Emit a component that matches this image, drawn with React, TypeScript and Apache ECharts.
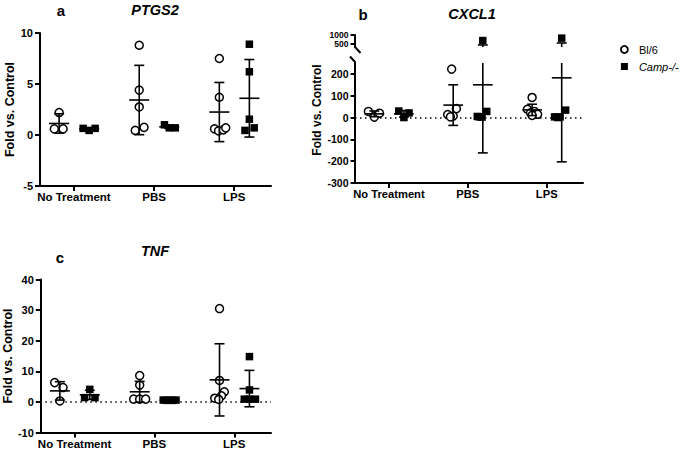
import { useEffect, useRef } from "react";
import * as echarts from "echarts";

// ---------- data ----------
const categories = ["No Treatment", "PBS", "LPS"];
const strainNames = ["Bl/6", "Camp-/-"];

// a  PTGS2
const ptgs2Bl6 = [[2.2, 0.6, 0.6], [8.8, 4.4, 2.75, 0.45, 0.75], [7.5, 3.7, 0.6, 0.4, 0.5, 0.7]];
const ptgs2Bl6Jitter = [[0, -0.06, 0.05], [0, 0, 0, -0.05, 0.06], [0, 0, -0.06, -0.01, 0.05, 0.08]];
const ptgs2Camp = [[0.65, 0.45, 0.65], [1.0, 0.7, 0.7], [8.9, 6.2, 1.55, 0.45, 0.7]];
const ptgs2CampJitter = [[-0.075, 0, 0.075], [-0.06, 0, 0.075], [0, 0, 0, -0.055, 0.06]];
const ptgs2Bl6Mean = [1.13, 3.43, 2.25];
const ptgs2Bl6Sd = [0.95, 3.4, 2.9];
const ptgs2CampMean = [0.6, 0.8, 3.6];
const ptgs2CampSd = [0.1, 0.15, 3.8];

// b  CXCL1
const cxcl1Bl6 = [[28, 2, 20], [222, 41, 14, 7, 3], [92, 38, 28, 22, 15, 10]];
const cxcl1Bl6Jitter = [[-0.075, 0, 0.065], [-0.02, 0.04, -0.07, 0.0, -0.035], [0, -0.06, 0.03, -0.02, 0.07, 0.0]];
const cxcl1Camp = [[30, 0, 21], [700, 28, 5, 2, 3], [830, 34, 3, 3, 0]];
const cxcl1CampJitter = [[-0.065, 0, 0.065], [0, 0.05, -0.07, -0.01, -0.04], [0, 0.05, -0.09, -0.02, -0.05]];
const cxcl1Bl6Mean = [17, 57, 35];
const cxcl1Bl6Sd = [13, 93, 26];
const cxcl1CampMean = [17, 150, 182];
const cxcl1CampSd = [15, 312, 385];

// c  TNF
const tnfBl6 = [[6.3, 4.7, 0.3], [8.6, 5.5, 0.9, 0.9, 0.9], [30.5, 7.0, 3.3, 2.0, 1.2, 0.8]];
const tnfBl6Jitter = [[-0.065, 0.04, 0], [0, 0, -0.075, 0, 0.075], [0, 0, 0.06, 0.025, -0.06, -0.01]];
const tnfCamp = [[4.1, 1.4, 1.4], [0.6, 0.5, 0.6, 0.5, 0.6], [14.8, 3.9, 0.9, 0.9, 0.9]];
const tnfCampJitter = [[0, -0.065, 0.065], [-0.08, -0.04, 0, 0.04, 0.08], [0, 0, -0.065, 0, 0.075]];
const tnfBl6Mean = [3.6, 3.3, 7.2];
const tnfBl6Sd = [3.0, 3.4, 11.8];
const tnfCampMean = [2.3, 0.55, 4.35];
const tnfCampSd = [1.5, 0.1, 5.95];

// axis ticks
const ptgs2Ticks = [-5, 0, 5, 10];
const cxcl1UpperTicks = [500, 1000];
const cxcl1LowerTicks = [-300, -200, -100, 0, 100, 200];
const tnfTicks = [-10, 0, 10, 20, 30, 40];

// ---------- layout / style ----------
const FONT = 'Arial, "Liberation Sans", Helvetica, sans-serif';
const X_MIN = -0.43;
const X_MAX = 2.46;
const BL6_OFFSET = -0.185;
const CAMP_OFFSET = 0.19;
const MEAN_W = 0.25;
const CAP_W = 0.125;

function points(values: number[][], jitter: number[][], offset: number, lo = -Infinity, hi = Infinity) {
  const out: number[][] = [];
  values.forEach((grp, c) =>
    grp.forEach((v, i) => {
      if (v >= lo && v <= hi) out.push([c + offset + jitter[c][i], v]);
    })
  );
  return out;
}

function stats(means: number[], sds: number[], offset: number) {
  return means.map((m, c) => [c + offset, m, sds[c]]);
}

function errorBars(idx: number, rows: number[][], lo: number, hi: number) {
  return {
    type: "custom",
    xAxisIndex: idx,
    yAxisIndex: idx,
    z: 5,
    silent: true,
    data: rows,
    encode: { x: 0, y: 1 },
    renderItem: (_p: any, api: any) => {
      const x = api.value(0);
      const m = api.value(1);
      const s = api.value(2);
      const style = { stroke: "#000", lineWidth: 1.6 };
      const children: any[] = [];
      const top = Math.min(m + s, hi);
      const bot = Math.max(m - s, lo);
      if (top > bot) {
        const a = api.coord([x, top]);
        const b = api.coord([x, bot]);
        children.push({ type: "line", shape: { x1: a[0], y1: a[1], x2: b[0], y2: b[1] }, style });
      }
      const hline = (y: number, w: number) => {
        if (y < lo || y > hi) return;
        const l = api.coord([x - w / 2, y]);
        const r = api.coord([x + w / 2, y]);
        children.push({ type: "line", shape: { x1: l[0], y1: l[1], x2: r[0], y2: r[1] }, style });
      };
      hline(m, MEAN_W);
      hline(m + s, CAP_W);
      hline(m - s, CAP_W);
      return { type: "group", children };
    },
  };
}

const circleStyle = { color: "#fff", borderColor: "#000", borderWidth: 1.5, opacity: 1 };
const squareStyle = { color: "#000", opacity: 1 };

function scatter(idx: number, name: string, data: number[][], zeroLine = false) {
  const isBl6 = name === strainNames[0];
  const s: any = {
    type: "scatter",
    name,
    xAxisIndex: idx,
    yAxisIndex: idx,
    z: 3,
    symbol: isBl6 ? "circle" : "rect",
    symbolSize: isBl6 ? 8 : 7.5,
    itemStyle: isBl6 ? circleStyle : squareStyle,
    emphasis: { disabled: true },
    data,
  };
  if (zeroLine) {
    s.markLine = {
      silent: true,
      symbol: "none",
      label: { show: false },
      lineStyle: { color: "#000", type: [1.5, 3.5], width: 1.5, opacity: 1 },
      data: [{ yAxis: 0 }],
      z: 1,
    };
  }
  return s;
}

function xAxisFor(idx: number, show = true, fontSize = 11.5) {
  return {
    type: "value",
    gridIndex: idx,
    min: X_MIN,
    max: X_MAX,
    show,
    axisLine: { show: true, onZero: false, lineStyle: { color: "#000", width: 2 } },
    axisTick: { show: true, length: 5, customValues: [0, 1, 2], lineStyle: { color: "#000", width: 2 } },
    axisLabel: {
      customValues: [0, 1, 2],
      formatter: (v: number) => categories[Math.round(v)],
      color: "#000",
      fontWeight: "bold",
      fontSize,
      fontFamily: FONT,
      margin: 5,
    },
    splitLine: { show: false },
  };
}

function yAxisFor(idx: number, min: number, max: number, ticks: number[], fontSize: number, name = "") {
  return {
    type: "value",
    gridIndex: idx,
    min,
    max,
    name,
    nameLocation: "middle",
    nameGap: 23,
    nameTextStyle: { color: "#000", fontWeight: "bold", fontSize: 12.5, fontFamily: FONT },
    axisLine: { show: true, onZero: false, lineStyle: { color: "#000", width: 2 } },
    axisTick: { show: true, length: 4.5, customValues: ticks, lineStyle: { color: "#000", width: 2 } },
    axisLabel: {
      customValues: ticks,
      formatter: (v: number) => String(v),
      color: "#000",
      fontWeight: "bold",
      fontSize,
      fontFamily: FONT,
      margin: 6.5,
      hideOverlap: false,
      showMinLabel: true,
      showMaxLabel: true,
    },
    splitLine: { show: false },
  };
}

function textEl(text: string, x: number, y: number, font: string, rotation = 0) {
  return {
    type: "text",
    x,
    y,
    rotation,
    silent: true,
    style: {
      text,
      font,
      fill: "#000",
      align: "center",
      verticalAlign: "middle",
      textAlign: "center",
      textVerticalAlign: "middle",
    },
  };
}

function buildOption() {
  const UP_LO = 350;
  const UP_HI = 1000;
  const LOW_LO = -300;
  const LOW_HI = 250;
  return {
    animation: false,
    backgroundColor: "#fff",
    textStyle: { fontFamily: FONT },
    grid: [
      { left: 39.5, top: 33, width: 231.5, height: 153 },
      { left: 355, top: 35, width: 228, height: 12 },
      { left: 355, top: 63, width: 228, height: 120 },
      { left: 39.5, top: 279.5, width: 231.5, height: 153 },
    ],
    xAxis: [xAxisFor(0), xAxisFor(1, false), xAxisFor(2, true, 11.2), xAxisFor(3)],
    yAxis: [
      yAxisFor(0, -5, 10, ptgs2Ticks, 11, "Fold vs. Control"),
      yAxisFor(1, UP_LO, UP_HI, cxcl1UpperTicks, 8.5),
      yAxisFor(2, LOW_LO, LOW_HI, cxcl1LowerTicks, 10.5),
      yAxisFor(3, -10, 40, tnfTicks, 11, "Fold vs. Control"),
    ],
    legend: {
      orient: "vertical",
      left: 615,
      top: 39,
      itemWidth: 7,
      itemHeight: 7,
      itemGap: 6,
      selectedMode: false,
      textStyle: {
        fontSize: 11,
        fontFamily: FONT,
        color: "#000",
        padding: [0, 0, 0, 6],
        rich: { it: { fontStyle: "italic", fontSize: 11, fontFamily: FONT, color: "#000" } },
      },
      formatter: (n: string) => (n === strainNames[1] ? "{it|" + n + "}" : n),
      data: [
        { name: strainNames[0], icon: "circle", itemStyle: { color: "#fff", borderColor: "#000", borderWidth: 1.8, opacity: 1 } },
        { name: strainNames[1], icon: "rect", itemStyle: { color: "#000", borderWidth: 0, opacity: 1 } },
      ],
    },
    graphic: [
      textEl("a", 61, 10.5, "bold 15px " + FONT),
      textEl("PTGS2", 155, 10, "italic bold 14.5px " + FONT),
      textEl("b", 363, 14, "bold 15px " + FONT),
      textEl("CXCL1", 472, 13.5, "italic bold 14.5px " + FONT),
      textEl("c", 60, 257, "bold 15px " + FONT),
      textEl("TNF", 155, 250.5, "italic bold 14.5px " + FONT),
      textEl("Fold vs. Control", 317, 110, "bold 12px " + FONT, Math.PI / 2),
      { type: "line", silent: true, shape: { x1: 355, y1: 47, x2: 360.5, y2: 53 }, style: { stroke: "#000", lineWidth: 2 } },
      { type: "line", silent: true, shape: { x1: 350, y1: 56.5, x2: 355.5, y2: 62.5 }, style: { stroke: "#000", lineWidth: 2 } },
    ],
    series: [
      // a
      scatter(0, strainNames[0], points(ptgs2Bl6, ptgs2Bl6Jitter, BL6_OFFSET)),
      scatter(0, strainNames[1], points(ptgs2Camp, ptgs2CampJitter, CAMP_OFFSET)),
      errorBars(0, stats(ptgs2Bl6Mean, ptgs2Bl6Sd, BL6_OFFSET), -5, 10),
      errorBars(0, stats(ptgs2CampMean, ptgs2CampSd, CAMP_OFFSET), -5, 10),
      // b upper
      scatter(1, strainNames[0], points(cxcl1Bl6, cxcl1Bl6Jitter, BL6_OFFSET, UP_LO, UP_HI)),
      scatter(1, strainNames[1], points(cxcl1Camp, cxcl1CampJitter, CAMP_OFFSET, UP_LO, UP_HI)),
      errorBars(1, stats(cxcl1Bl6Mean, cxcl1Bl6Sd, BL6_OFFSET), UP_LO, UP_HI),
      errorBars(1, stats(cxcl1CampMean, cxcl1CampSd, CAMP_OFFSET), UP_LO, UP_HI),
      // b lower
      scatter(2, strainNames[0], points(cxcl1Bl6, cxcl1Bl6Jitter, BL6_OFFSET, LOW_LO, LOW_HI), true),
      scatter(2, strainNames[1], points(cxcl1Camp, cxcl1CampJitter, CAMP_OFFSET, LOW_LO, LOW_HI)),
      errorBars(2, stats(cxcl1Bl6Mean, cxcl1Bl6Sd, BL6_OFFSET), LOW_LO, LOW_HI),
      errorBars(2, stats(cxcl1CampMean, cxcl1CampSd, CAMP_OFFSET), LOW_LO, LOW_HI),
      // c
      scatter(3, strainNames[0], points(tnfBl6, tnfBl6Jitter, BL6_OFFSET), true),
      scatter(3, strainNames[1], points(tnfCamp, tnfCampJitter, CAMP_OFFSET)),
      errorBars(3, stats(tnfBl6Mean, tnfBl6Sd, BL6_OFFSET), -10, 40),
      errorBars(3, stats(tnfCampMean, tnfCampSd, CAMP_OFFSET), -10, 40),
    ],
  };
}

export default function App() {
  const ref = useRef<HTMLDivElement>(null);
  useEffect(() => {
    if (!ref.current) return;
    const chart = echarts.init(ref.current, undefined, { renderer: "svg" });
    chart.setOption(buildOption() as any);
    return () => chart.dispose();
  }, []);
  return (
    <div
      ref={ref}
      style={{ position: "fixed", left: 0, top: 0, width: 685, height: 452, background: "#fff" }}
    />
  );
}
